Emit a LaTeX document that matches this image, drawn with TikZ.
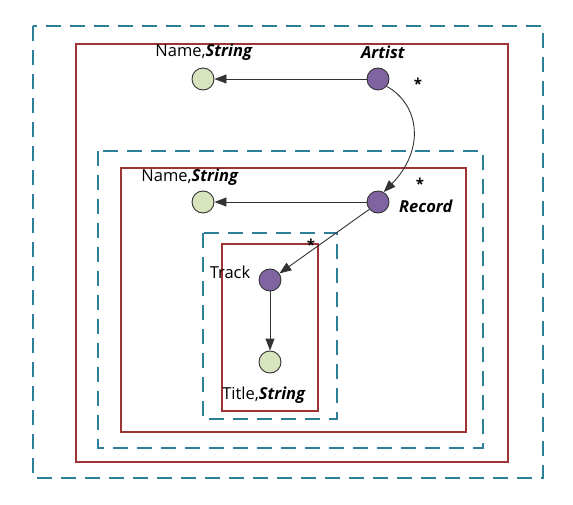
\documentclass[tikz,border=0pt]{standalone}
\usepackage{fontspec}
\setmainfont{Open Sans}
\usetikzlibrary{arrows.meta}
\definecolor{teal1}{RGB}{46,128,152}
\definecolor{red1}{RGB}{158,52,52}
\definecolor{purp}{RGB}{128,100,162}
\definecolor{grn}{RGB}{215,228,189}
\tikzset{
  dbox/.style={draw=teal1,line width=2.3pt,dash pattern=on 15pt off 9pt},
  rbox/.style={draw=red1,line width=2pt},
  ent/.style={circle,draw=black!80,line width=0.9pt,fill=purp,minimum size=22pt,inner sep=0pt},
  att/.style={circle,draw=black!80,line width=0.9pt,fill=grn,minimum size=22pt,inner sep=0pt},
  lbl/.style={font=\fontsize{16.5}{19}\selectfont,inner sep=0pt},
  star/.style={font=\fontsize{15}{17}\selectfont\bfseries,inner sep=0pt},
  arr/.style={draw=black!80,line width=0.9pt,-{Triangle[length=12pt,width=9pt]}}
}
\begin{document}
\begin{tikzpicture}[x=1pt,y=-1pt]
\useasboundingbox (0,0) rectangle (573,505);
\draw[dbox] (33,26) rectangle (543,478);
\draw[rbox] (76,44) rectangle (508,462);
\draw[dbox] (98,151) rectangle (483,448);
\draw[rbox] (121,168) rectangle (466,432);
\draw[dbox] (203,233) rectangle (337,419);
\draw[rbox] (222,244) rectangle (318,411);

\node[att] (name1) at (203,79) {};
\node[ent] (artist) at (378,79) {};
\node[att] (name2) at (203,202) {};
\node[ent] (record) at (378,202) {};
\node[ent] (track) at (270,280) {};
\node[att] (title) at (270,362) {};

\node[lbl] (lname1) at (204,52) {Name,\textbf{\textit{String}}};
\node[lbl] (lartist) at (383,52) {\textbf{\textit{Artist}}};
\node[lbl] (lname2) at (190,177) {Name,\textbf{\textit{String}}};
\node[lbl] (lrecord) at (426,206) {\textbf{\textit{Record}}};
\node[lbl] (ltrack) at (230,272) {Track};
\node[lbl] (ltitle) at (264,395) {Title,\textbf{\textit{String}}};
\node[star] (s1) at (418,84) {*};
\node[star] (s2) at (420,184) {*};
\node[star] (s3) at (311,245) {*};

\draw[arr] (artist) -- (name1);
\draw[arr] (record) -- (name2);
\draw[arr] (track) -- (title);
\draw[arr] (artist.-40) .. controls (420,105) and (425,150) .. (record.60);
\draw[arr] (record.-140) -- (track.35);
\end{tikzpicture}
\end{document}
